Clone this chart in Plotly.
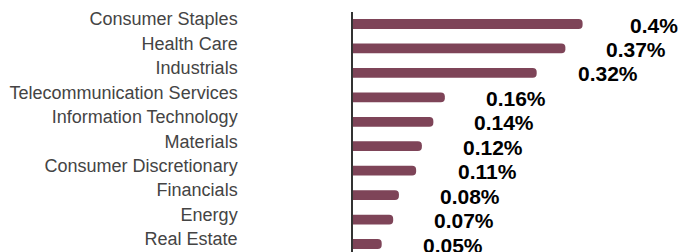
import plotly.graph_objects as go

categories = ["Consumer Staples", "Health Care", "Industrials", "Telecommunication Services",
              "Information Technology", "Materials", "Consumer Discretionary", "Financials",
              "Energy", "Real Estate"]
values = [0.40, 0.37, 0.32, 0.16, 0.14, 0.12, 0.11, 0.08, 0.07, 0.05]
labels = ["0.4%", "0.37%", "0.32%", "0.16%", "0.14%", "0.12%", "0.11%", "0.08%", "0.07%", "0.05%"]

BAR = "#7e4458"

fig = go.Figure()
fig.add_trace(go.Bar(
    x=values, y=categories, orientation="h",
    marker=dict(color=BAR, cornerradius=5, line=dict(width=0)),
    width=0.4, hoverinfo="skip",
))

for c, v, t in zip(categories, values, labels):
    fig.add_annotation(x=v, y=c, text="<b>" + t + "</b>", showarrow=False, xanchor="center", yanchor="middle",
                       xshift=71, yshift=-1,
                       font=dict(family="Liberation Sans, Arial, sans-serif", size=21, color="#000000"))

fig.update_layout(
    width=680, height=252,
    margin=dict(l=353, r=39.5, t=12, b=0, autoexpand=False),
    paper_bgcolor="white", plot_bgcolor="white",
    showlegend=False,
    xaxis=dict(range=[0, 0.5], visible=False, fixedrange=True, automargin=False),
    yaxis=dict(
        type="category", categoryorder="array", categoryarray=categories,
        range=[9.327, -0.491], showgrid=False, zeroline=False, automargin=False,
        showline=True, linecolor="#333333", linewidth=1.5,
        ticks="", ticklabelstandoff=110, ticklabelshift=5,
        tickfont=dict(family="Liberation Sans, Arial, sans-serif", size=18, color="#444444"),
    ),
)

fig.write_html("out.html", config={"displayModeBar": False},
               post_script="document.body.style.margin='0';document.body.style.overflow='hidden';")
